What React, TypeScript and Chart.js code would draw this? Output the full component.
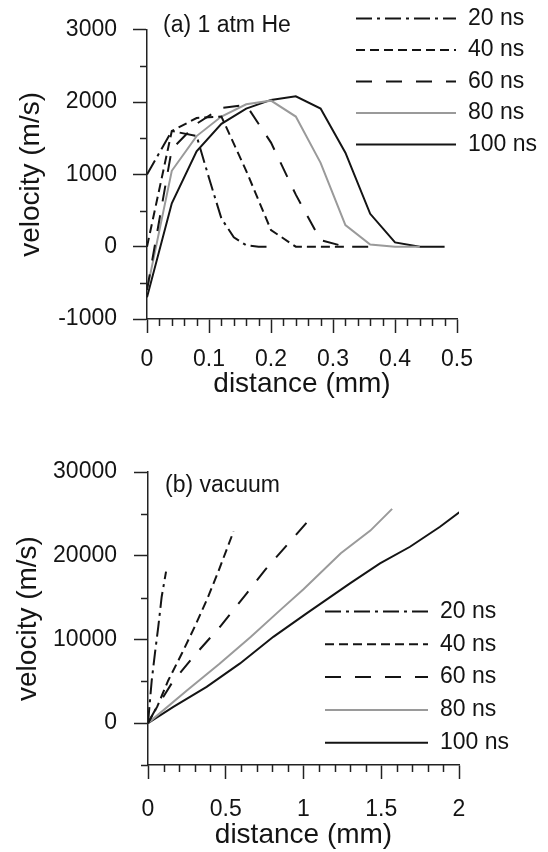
import React, { useEffect, useRef } from 'react';
import { Chart, registerables } from 'chart.js';

Chart.register(...registerables);

const FONT = '"Liberation Sans", Arial, Helvetica, sans-serif';
const INK = '#141414';
const AXIS = '#222222';

// ---------- (a) 1 atm He ----------
const heDist20 = [0, 0.04, 0.08, 0.1, 0.12, 0.14, 0.16, 0.18, 0.2];
const heVel20 = [1000, 1600, 1530, 950, 390, 130, 20, 0, 0];
const heDist40 = [0, 0.04, 0.08, 0.12, 0.16, 0.2, 0.24, 0.28, 0.32];
const heVel40 = [0, 1600, 1780, 1800, 1050, 230, 0, 0, 0];
const heDist60 = [0, 0.04, 0.08, 0.12, 0.16, 0.2, 0.24, 0.28, 0.32, 0.36];
const heVel60 = [-600, 1350, 1700, 1920, 1960, 1440, 720, 90, 0, 0];
const heDist80 = [0, 0.04, 0.08, 0.12, 0.16, 0.2, 0.24, 0.28, 0.32, 0.36, 0.4, 0.44];
const heVel80 = [-600, 1050, 1530, 1800, 1970, 2020, 1800, 1160, 300, 30, 0, 0];
const heDist100 = [0, 0.04, 0.08, 0.12, 0.16, 0.2, 0.24, 0.28, 0.32, 0.36, 0.4, 0.44, 0.48];
const heVel100 = [-700, 600, 1320, 1700, 1910, 2030, 2080, 1910, 1300, 455, 60, 0, 0];

// ---------- (b) vacuum ----------
const vacDist20 = [0, 0.024, 0.045, 0.066, 0.088, 0.116];
const vacVel20 = [0, 5100, 8400, 11500, 15100, 18100];
const vacDist40 = [0, 0.06, 0.13, 0.22, 0.3, 0.38, 0.45, 0.55];
const vacVel40 = [0, 2000, 5100, 8400, 11500, 14800, 18000, 22900];
const vacDist60 = [0, 0.045, 0.152, 0.291, 0.463, 0.635, 0.752, 0.913, 1.053];
const vacVel60 = [0, 1550, 4740, 7930, 11510, 15500, 18290, 21670, 24660];
const vacDist80 = [0, 0.25, 0.46, 0.66, 0.85, 1.0, 1.24, 1.43, 1.57];
const vacVel80 = [0, 3900, 7100, 10300, 13500, 16000, 20300, 23000, 25600];
const vacDist100 = [0, 0.163, 0.377, 0.592, 0.806, 1.02, 1.299, 1.492, 1.685, 1.878, 2.043];
const vacVel100 = [0, 1950, 4340, 7135, 10310, 13110, 16700, 19090, 21070, 23460, 25780];

const seriesLabels = ['20 ns', '40 ns', '60 ns', '80 ns', '100 ns'];

// ticks
const heXTicks = [0, 0.1, 0.2, 0.3, 0.4, 0.5];
const heXMinor = [0.02, 0.04, 0.06, 0.08, 0.12, 0.14, 0.16, 0.18, 0.22, 0.24, 0.26, 0.28, 0.32, 0.34, 0.36, 0.38, 0.42, 0.44, 0.46, 0.48];
const heYTicks = [-1000, 0, 1000, 2000, 3000];
const heYMinor = [-500, 500, 1500, 2500];
const vacXTicks = [0, 0.5, 1, 1.5, 2];
const vacXMinor = [0.1, 0.2, 0.3, 0.4, 0.6, 0.7, 0.8, 0.9, 1.1, 1.2, 1.3, 1.4, 1.6, 1.7, 1.8, 1.9];
const vacYTicks = [0, 10000, 20000, 30000];
const vacYMinor = [-5000, 5000, 15000, 25000];

const lineStyles = [
  { borderColor: INK, borderWidth: 2, borderDash: [16, 5, 3, 5] },
  { borderColor: INK, borderWidth: 2, borderDash: [9, 5] },
  { borderColor: INK, borderWidth: 2, borderDash: [16, 14] },
  { borderColor: '#9a9a9a', borderWidth: 2, borderDash: [] as number[] },
  { borderColor: INK, borderWidth: 2, borderDash: [] as number[] },
];

const toPoints = (xs: number[], ys: number[]) => xs.map((x, i) => ({ x, y: ys[i] }));

const overlayPlugin = {
  id: 'overlay',
  afterDraw(chart: any, _args: any, opts: any) {
    const ctx = chart.ctx as CanvasRenderingContext2D;
    const xs = chart.scales.x;
    const ys = chart.scales.y;
    const area = chart.chartArea;
    ctx.save();
    // minor ticks
    ctx.strokeStyle = AXIS;
    ctx.lineWidth = 1.5;
    ctx.setLineDash([]);
    (opts.xMinor || []).forEach((v: number) => {
      const px = Math.round(xs.getPixelForValue(v)) + 0.5;
      ctx.beginPath();
      ctx.moveTo(px, area.bottom);
      ctx.lineTo(px, area.bottom + opts.minorLen);
      ctx.stroke();
    });
    (opts.yMinor || []).forEach((v: number) => {
      const py = Math.round(ys.getPixelForValue(v)) + 0.5;
      ctx.beginPath();
      ctx.moveTo(area.left - opts.minorLen, py);
      ctx.lineTo(area.left, py);
      ctx.stroke();
    });
    // legend
    const lg = opts.legend;
    ctx.font = `23px ${FONT}`;
    ctx.textBaseline = 'middle';
    ctx.textAlign = 'left';
    chart.data.datasets.forEach((ds: any, i: number) => {
      const y = lg.y0 + i * lg.dy;
      ctx.strokeStyle = ds.borderColor;
      ctx.lineWidth = ds.borderWidth;
      ctx.setLineDash(ds.borderDash || []);
      ctx.beginPath();
      ctx.moveTo(lg.x0, y);
      ctx.lineTo(lg.x1, y);
      ctx.stroke();
      ctx.setLineDash([]);
      ctx.fillStyle = INK;
      ctx.fillText(ds.label, lg.xText, y);
    });
    // panel annotation
    ctx.font = `23px ${FONT}`;
    ctx.fillStyle = INK;
    ctx.fillText(opts.note.text, opts.note.x, opts.note.y);
    ctx.restore();
  },
};

function makeConfig(p: any) {
  const datasets = p.series.map((s: any, i: number) => ({
    label: seriesLabels[i],
    data: toPoints(s[0], s[1]),
    borderColor: lineStyles[i].borderColor,
    borderWidth: lineStyles[i].borderWidth,
    borderDash: lineStyles[i].borderDash,
    pointRadius: 0,
    tension: 0,
    fill: false,
  }));
  return {
    type: 'line',
    data: { datasets },
    plugins: [overlayPlugin],
    options: {
      responsive: false,
      animation: false,
      events: [],
      layout: { padding: p.padding },
      plugins: {
        legend: { display: false },
        tooltip: { enabled: false },
        overlay: {
          xMinor: p.xMinor,
          yMinor: p.yMinor,
          minorLen: 7,
          legend: p.legend,
          note: p.note,
        },
      },
      scales: {
        x: {
          type: 'linear',
          min: p.xMin,
          max: p.xMax,
          afterBuildTicks: (s: any) => { s.ticks = p.xTicks.map((v: number) => ({ value: v })); },
          afterFit: (s: any) => { s.height = p.xHeight; },
          grid: { drawOnChartArea: false, drawTicks: true, tickLength: 14, tickColor: AXIS, tickWidth: 1.5 },
          border: { display: true, color: AXIS, width: 1.5 },
          ticks: {
            padding: p.xLabelPad,
            color: INK,
            font: { family: FONT, size: 23 },
            maxRotation: 0,
            autoSkip: false,
            callback: (v: number) => String(v),
          },
          title: {
            display: true,
            text: 'distance (mm)',
            color: INK,
            font: { family: FONT, size: 28 },
            padding: { top: 0, bottom: 0 },
          },
        },
        y: {
          type: 'linear',
          min: p.yMin,
          max: p.yMax,
          afterBuildTicks: (s: any) => { s.ticks = p.yTicks.map((v: number) => ({ value: v })); },
          afterFit: (s: any) => { s.width = p.yWidth; },
          grid: { drawOnChartArea: false, drawTicks: true, tickLength: 14, tickColor: AXIS, tickWidth: 1.5 },
          border: { display: true, color: AXIS, width: 1.5 },
          ticks: {
            padding: p.yLabelPad,
            color: INK,
            font: { family: FONT, size: 23 },
            autoSkip: false,
            callback: (v: number) => String(v),
          },
          title: {
            display: true,
            text: 'velocity (m/s)',
            color: INK,
            font: { family: FONT, size: 28 },
            padding: { top: p.yTitlePad, bottom: 0 },
          },
        },
      },
    },
  };
}

const topConfig = makeConfig({
  series: [
    [heDist20, heVel20],
    [heDist40, heVel40],
    [heDist60, heVel60],
    [heDist80, heVel80],
    [heDist100, heVel100],
  ],
  xMin: 0, xMax: 0.5, yMin: -1000, yMax: 3000,
  xTicks: heXTicks, yTicks: heYTicks, xMinor: heXMinor, yMinor: heYMinor,
  padding: { left: 0, top: 25, right: 91, bottom: 451 },
  xHeight: 82, yWidth: 147, xLabelPad: 13, yLabelPad: 16, yTitlePad: 14,
  legend: { x0: 356, x1: 456, xText: 468, y0: 18.5, dy: 31.5 },
  note: { text: '(a) 1 atm He', x: 163, y: 26 },
});

const bottomConfig = makeConfig({
  series: [
    [vacDist20, vacVel20],
    [vacDist40, vacVel40],
    [vacDist60, vacVel60],
    [vacDist80, vacVel80],
    [vacDist100, vacVel100],
  ],
  xMin: 0, xMax: 2, yMin: -5000, yMax: 30000,
  xTicks: vacXTicks, yTicks: vacYTicks, xMinor: vacXMinor, yMinor: vacYMinor,
  padding: { left: 0, top: 472, right: 89, bottom: 0 },
  xHeight: 87, yWidth: 148, xLabelPad: 17, yLabelPad: 17, yTitlePad: 11,
  legend: { x0: 325, x1: 428, xText: 440, y0: 611.5, dy: 32.8 },
  note: { text: '(b) vacuum', x: 165, y: 486 },
});

export default function App() {
  const topRef = useRef<HTMLCanvasElement>(null);
  const botRef = useRef<HTMLCanvasElement>(null);
  useEffect(() => {
    const c1 = new Chart(topRef.current as HTMLCanvasElement, topConfig as any);
    const c2 = new Chart(botRef.current as HTMLCanvasElement, bottomConfig as any);
    return () => {
      c1.destroy();
      c2.destroy();
    };
  }, []);
  return (
    <div style={{ position: 'absolute', left: 0, top: 0, width: 548, height: 852, background: '#fff' }}>
      <canvas ref={topRef} width={548} height={852} style={{ position: 'absolute', left: 0, top: 0 }} />
      <canvas ref={botRef} width={548} height={852} style={{ position: 'absolute', left: 0, top: 0 }} />
    </div>
  );
}
